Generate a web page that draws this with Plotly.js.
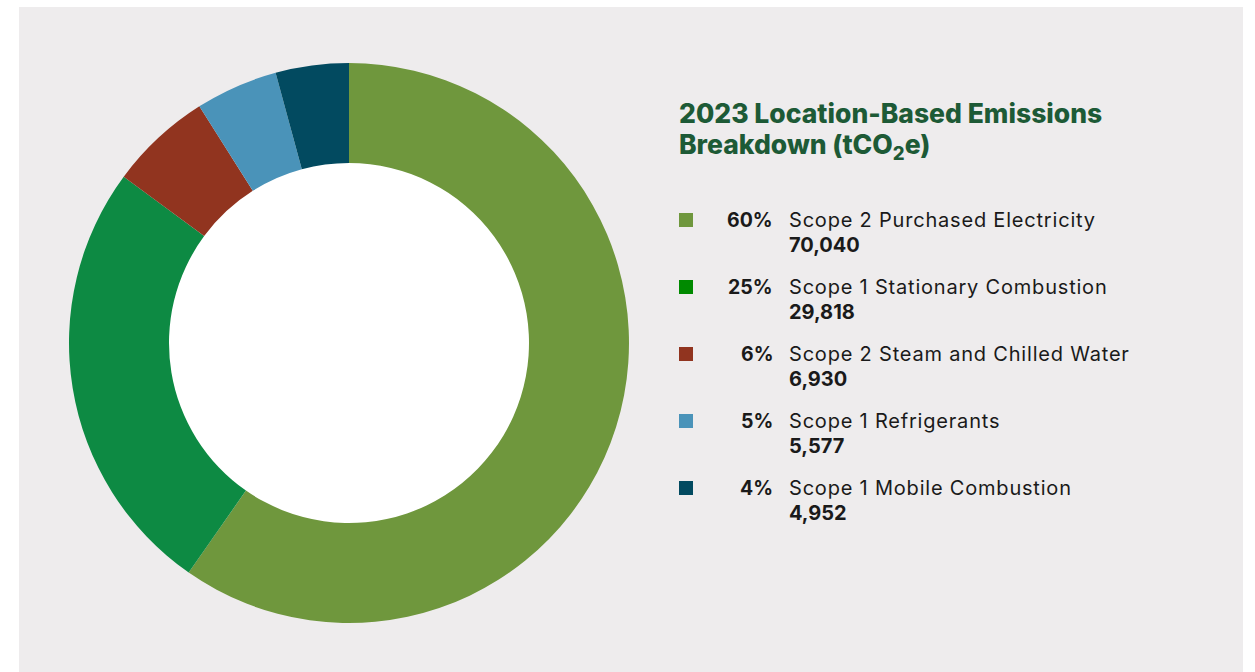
<!DOCTYPE html>
<html>
<head>
<meta charset="utf-8">
<script src="https://cdn.plot.ly/plotly-3.0.1.min.js"></script>
<style>html,body{margin:0;padding:0;background:#fff;}#chart{width:1255px;height:672px;}</style>
</head>
<body>
<div id="chart"></div>
<script>
const categories = ["Scope 2 Purchased Electricity", "Scope 1 Stationary Combustion", "Scope 2 Steam and Chilled Water", "Scope 1 Refrigerants", "Scope 1 Mobile Combustion"];
const emissions = [70040, 29818, 6930, 5577, 4952];
const sliceColors = ["#6f973d", "#0d8a43", "#91341f", "#4a93b9", "#024a60"];
const markerColors = ["#6f973d", "#008a00", "#91341f", "#4a93b9", "#024a60"];
const chartTitleLines = ["2023 Location-Based Emissions", "Breakdown (tCO<sub>2</sub>e)"];

const W = 1255, H = 672;
const px = x => x / W;
const py = y => 1 - y / H;

const total = emissions.reduce((a, b) => a + b, 0);
const pct = emissions.map(v => Math.round(v / total * 100));

const shapes = [
  {type: "rect", xref: "paper", yref: "paper", x0: px(19), x1: px(1243), y0: py(672), y1: py(7), fillcolor: "#eeeced", line: {width: 0}, layer: "below"},
  {type: "circle", xref: "paper", yref: "paper", x0: px(349 - 220), x1: px(349 + 220), y0: py(343 + 220), y1: py(343 - 220), fillcolor: "#ffffff", line: {width: 0}, layer: "below"}
];
const titleFont = {family: "Inter, 'Open Sans', sans-serif", size: 26.5, weight: 800, color: "#1d5a36"};
const annotations = [
  {xref: "paper", yref: "paper", x: px(677), y: py(113), xanchor: "left", yanchor: "middle", align: "left", showarrow: false,
   text: chartTitleLines[0], font: titleFont},
  {xref: "paper", yref: "paper", x: px(677), y: py(146), xanchor: "left", yanchor: "middle", align: "left", showarrow: false,
   text: chartTitleLines[1], font: titleFont}
];
const rowTop = 220, rowStep = 67;
const labelIdx = [];
categories.forEach((c, i) => {
  const yc = rowTop + i * rowStep;
  shapes.push({type: "rect", xref: "paper", yref: "paper", x0: px(679), x1: px(693), y0: py(yc + 7), y1: py(yc - 7), fillcolor: markerColors[i], line: {width: 0}});
  annotations.push({xref: "paper", yref: "paper", x: px(775), y: py(yc), xanchor: "right", yanchor: "middle", align: "right", showarrow: false,
    text: "<b>" + pct[i] + "%</b>", font: {family: "Inter, sans-serif", size: 19.5, color: "#1a1a1a"}});
  labelIdx.push(annotations.length);
  annotations.push({xref: "paper", yref: "paper", x: px(787), y: py(yc), xanchor: "left", yanchor: "middle", align: "left", showarrow: false,
    text: c, font: {family: "Inter, sans-serif", size: 20, color: "#1a1a1a"}});
  annotations.push({xref: "paper", yref: "paper", x: px(787), y: py(yc + 25), xanchor: "left", yanchor: "middle", align: "left", showarrow: false,
    text: "<b>" + emissions[i].toLocaleString("en-US") + "</b>", font: {family: "Inter, sans-serif", size: 20, color: "#1a1a1a"}});
});

const trace = {
  type: "pie",
  labels: categories,
  values: emissions,
  hole: 180 / 280,
  sort: false,
  direction: "clockwise",
  rotation: 0,
  marker: {colors: sliceColors, line: {width: 0}},
  textinfo: "none",
  hoverinfo: "label+value+percent",
  domain: {x: [px(69), px(629)], y: [py(623), py(63)]},
  showlegend: false
};

Plotly.newPlot("chart", [trace], {
  width: W, height: H,
  margin: {l: 0, r: 0, t: 0, b: 0},
  paper_bgcolor: "#ffffff",
  showlegend: false,
  shapes: shapes,
  annotations: annotations
}, {displayModeBar: false, staticPlot: true}).then(gd => {
  const texts = gd.querySelectorAll(".annotation-text");
  labelIdx.forEach(k => { if (texts[k]) texts[k].style.letterSpacing = "0.8px"; });
});
</script>
</body>
</html>
